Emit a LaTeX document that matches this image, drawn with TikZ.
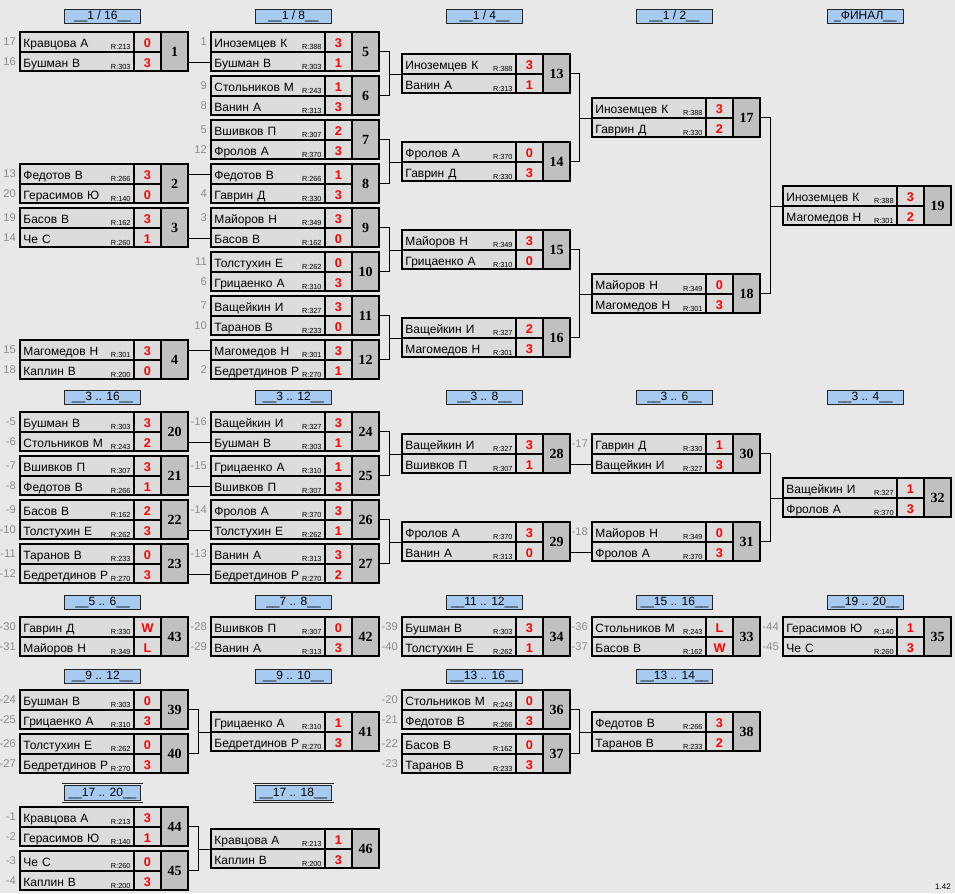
\documentclass[tikz,border=0pt]{standalone}
\usepackage{fontspec}
\setmainfont{Liberation Sans}
\newfontfamily\numfont{Liberation Serif}
\usepackage{xcolor}
\usepackage{tikz}
\usetikzlibrary{positioning}
\definecolor{bgcol}{HTML}{E8E8E8}
\definecolor{cellcol}{HTML}{DCDCDC}
\definecolor{numcol}{HTML}{C0C0C0}
\definecolor{headcol}{HTML}{A6CAF0}
\definecolor{seedcol}{HTML}{8C8C8C}
\newcommand\rtg[1]{\raisebox{-2.2pt}{\fontsize{5.5}{6}\selectfont R:#1}}

\begin{document}
\begin{tikzpicture}[
      x=0.75pt, y=-0.75pt,
      type-player/.style={rectangle, draw=black, line width=0.75pt, fill=cellcol, inner sep=0pt, inner xsep=2.2pt, text width=80.35pt, minimum height=14.25pt, text height=10.9pt, text depth=3.35pt, align=left, font=\fontsize{9}{10}\selectfont},
      type-score/.style={rectangle, draw=black, line width=0.75pt, fill=cellcol, inner sep=0pt, minimum width=19.5pt, minimum height=14.25pt, text height=10.9pt, text depth=3.35pt, text=red, font=\bfseries\fontsize{9.5}{10}\selectfont},
      type-match/.style={rectangle, draw=black, line width=0.75pt, fill=numcol, inner sep=0pt, minimum width=19.5pt, minimum height=28.5pt, font=\numfont\bfseries\fontsize{10.5}{12}\selectfont},
      type-seed/.style={text=seedcol, inner sep=0pt, anchor=east, font=\fontsize{8.4}{10}\selectfont},
      type-stage/.style={rectangle, draw=black!85, double=bgcol, double distance=1.1pt, line width=0.6pt, fill=headcol, inner sep=0pt, minimum width=59pt, minimum height=12.5pt, font=\fontsize{9}{10}\selectfont},
      type-box/.style={draw=black, line width=1.6pt},
      type-link/.style={draw=black, line width=0.75pt}
    ]
      \useasboundingbox (0,0) rectangle (955,893);
      \fill[bgcol] (0,0) rectangle (955,893);
      % stage headers
      \node[type-stage] (stage-a) at (102.5,16.5) {\_\_1 / 16\_\_};
      \node[type-stage] (stage-b) at (293.5,16.5) {\_\_1 / 8\_\_};
      \node[type-stage] (stage-c) at (484.5,16.5) {\_\_1 / 4\_\_};
      \node[type-stage] (stage-d) at (674.5,16.5) {\_\_1 / 2\_\_};
      \node[type-stage] (stage-e) at (865.5,16.5) {\_ФИНАЛ\_\_};
      \foreach \hx/\hy/\htxt [count=\k] in {
          102.5/397.5/3 .. 16, 293.5/397.5/3 .. 12, 484.5/397.5/3 .. 8, 674.5/397.5/3 .. 6, 865.5/397.5/3 .. 4,
          102.5/602.5/5 .. 6, 293.5/602.5/7 .. 8, 484.5/602.5/11 .. 12, 674.5/602.5/15 .. 16, 865.5/602.5/19 .. 20,
          102.5/676.5/9 .. 12, 293.5/676.5/9 .. 10, 484.5/676.5/13 .. 16, 674.5/676.5/13 .. 14,
          102.5/793/17 .. 20, 293.5/793/17 .. 18}
        \node[type-stage] (stage\k) at (\hx,\hy) {\_\_\htxt\_\_};
      % matches
      \foreach \n/\x/\y/\ska/\pna/\rka/\pta/\skb/\pnb/\rkb/\ptb in {
          1/20/32/17/Кравцова А/213/0/16/Бушман В/303/3,
          2/20/164/13/Федотов В/266/3/20/Герасимов Ю/140/0,
          3/20/208/19/Басов В/162/3/14/Че С/260/1,
          4/20/340/15/Магомедов Н/301/3/18/Каплин В/200/0,
          5/211/32/1/Иноземцев К/388/3//Бушман В/303/1,
          6/211/76/9/Стольников М/243/1/8/Ванин А/313/3,
          7/211/120/5/Вшивков П/307/2/12/Фролов А/370/3,
          8/211/164//Федотов В/266/1/4/Гаврин Д/330/3,
          9/211/208/3/Майоров Н/349/3//Басов В/162/0,
          10/211/252/11/Толстухин Е/262/0/6/Грицаенко А/310/3,
          11/211/296/7/Ващейкин И/327/3/10/Таранов В/233/0,
          12/211/340//Магомедов Н/301/3/2/Бедретдинов Р/270/1,
          13/402/54//Иноземцев К/388/3//Ванин А/313/1,
          14/402/142//Фролов А/370/0//Гаврин Д/330/3,
          15/402/230//Майоров Н/349/3//Грицаенко А/310/0,
          16/402/318//Ващейкин И/327/2//Магомедов Н/301/3,
          17/592/98//Иноземцев К/388/3//Гаврин Д/330/2,
          18/592/274//Майоров Н/349/0//Магомедов Н/301/3,
          19/783/186//Иноземцев К/388/3//Магомедов Н/301/2,
          20/20/412/-5/Бушман В/303/3/-6/Стольников М/243/2,
          21/20/456/-7/Вшивков П/307/3/-8/Федотов В/266/1,
          22/20/500/-9/Басов В/162/2/-10/Толстухин Е/262/3,
          23/20/544/-11/Таранов В/233/0/-12/Бедретдинов Р/270/3,
          24/211/412/-16/Ващейкин И/327/3//Бушман В/303/1,
          25/211/456/-15/Грицаенко А/310/1//Вшивков П/307/3,
          26/211/500/-14/Фролов А/370/3//Толстухин Е/262/1,
          27/211/544/-13/Ванин А/313/3//Бедретдинов Р/270/2,
          28/402/434//Ващейкин И/327/3//Вшивков П/307/1,
          29/402/522//Фролов А/370/3//Ванин А/313/0,
          30/592/434/-17/Гаврин Д/330/1//Ващейкин И/327/3,
          31/592/522/-18/Майоров Н/349/0//Фролов А/370/3,
          32/783/478//Ващейкин И/327/1//Фролов А/370/3,
          43/20/617/-30/Гаврин Д/330/W/-31/Майоров Н/349/L,
          42/211/617/-28/Вшивков П/307/0/-29/Ванин А/313/3,
          34/402/617/-39/Бушман В/303/3/-40/Толстухин Е/262/1,
          33/592/617/-36/Стольников М/243/L/-37/Басов В/162/W,
          35/783/617/-44/Герасимов Ю/140/1/-45/Че С/260/3,
          39/20/690/-24/Бушман В/303/0/-25/Грицаенко А/310/3,
          40/20/734/-26/Толстухин Е/262/0/-27/Бедретдинов Р/270/3,
          41/211/712//Грицаенко А/310/1//Бедретдинов Р/270/3,
          36/402/690/-20/Стольников М/243/0/-21/Федотов В/266/3,
          37/402/734/-22/Басов В/162/0/-23/Таранов В/233/3,
          38/592/712//Федотов В/266/3//Таранов В/233/2,
          44/20/807/-1/Кравцова А/213/3/-2/Герасимов Ю/140/1,
          45/20/851/-3/Че С/260/0/-4/Каплин В/200/3,
          46/211/829//Кравцова А/213/1//Каплин В/200/3}
      {
        \node[type-player, anchor=north west] (m\n-a) at (\x,\y) {\pna\hfill\rtg{\rka}};
        \node[type-player, anchor=north west] (m\n-b) at (m\n-a.south west) {\pnb\hfill\rtg{\rkb}};
        \node[type-score, anchor=north west] (m\n-sa) at (m\n-a.north east) {\pta};
        \node[type-score, anchor=north west] (m\n-sb) at (m\n-b.north east) {\ptb};
        \node[type-match, anchor=north west] (m\n) at (m\n-sa.north east) {\n};
        \draw[type-box] (m\n-a.north west) rectangle (m\n.south east);
        \node[type-seed] (m\n-ka) at ([xshift=-3pt]m\n-a.west) {\ska};
        \node[type-seed] (m\n-kb) at ([xshift=-3pt]m\n-b.west) {\skb};
      }
      % winner goes straight on
      \foreach \ma/\mc/\row in {1/5/b, 2/8/a, 3/9/b, 4/12/a, 20/24/b, 21/25/b, 22/26/b, 23/27/b, 28/30/b, 29/31/b}
        \draw[type-link] (m\ma.east |- m\mc-\row.west) -- (m\mc-\row.west);
      % two winners meet
      \foreach \ma/\mb/\mc in {5/6/13, 7/8/14, 9/10/15, 11/12/16, 13/14/17, 15/16/18, 17/18/19, 24/25/28, 26/27/29, 30/31/32, 39/40/41, 36/37/38, 44/45/46}
      {
        \coordinate (j\mc) at ([xshift=-9.25pt]m\mc-a.south west);
        \draw[type-link] (m\ma.east) -| (j\mc) |- (m\mb.east);
        \draw[type-link] (j\mc) -- (m\mc-a.south west);
      }
      \node[anchor=south east, inner sep=0pt, font=\fontsize{6}{7}\selectfont] (ver) at (951,890) {1.42};
    \end{tikzpicture}
\end{document}
